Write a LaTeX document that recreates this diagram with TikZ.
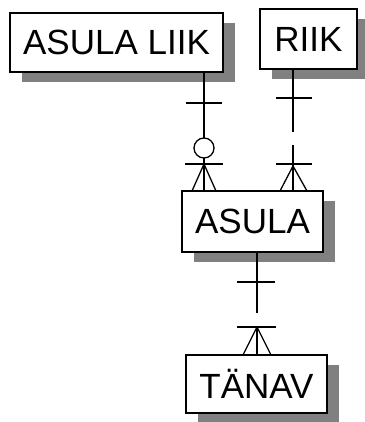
\documentclass[tikz,border=0pt]{standalone}
\usepackage{fontspec}
\setmainfont{Liberation Sans}
\usetikzlibrary{shadows,calc}
\tikzset{
  entity/.style={draw=black, line width=1.4pt, fill=white, inner sep=0pt,
    font=\fontsize{35}{38}\selectfont,
    drop shadow={shadow xshift=12pt, shadow yshift=-10pt, fill=black!50, opacity=1}},
  rel/.style={line width=1.3pt, black},
}
\begin{document}
\begin{tikzpicture}[x=1pt,y=-1pt]
\useasboundingbox (0,0) rectangle (364,422);
\node[entity, minimum width=213pt, minimum height=59pt] (liik) at (116.5,42.5) {ASULA LIIK};
\node[entity, minimum width=97pt, minimum height=60pt] (riik) at (308.5,39) {RIIK};
\node[entity, minimum width=141pt, minimum height=61pt] (asula) at (252.5,221.5) {ASULA};
\node[entity, minimum width=141pt, minimum height=58pt] (tanav) at (256.5,384) {TÄNAV};
% helper x positions
\coordinate (x1) at (204,0);
\coordinate (x2) at (293,0);
\coordinate (x3) at (257,0);
% ASULA LIIK -- ASULA (zero or many)
\coordinate (c1) at (204,148);
\draw[rel] (liik.south -| x1) -- ($(c1)+(0,-10)$);
\draw[rel] (c1) circle[radius=10pt];
\draw[rel] ($(c1)+(0,10)$) -- (asula.north -| x1);
\draw[rel] (186,103) -- (222,103);
\draw[rel] (185,164) -- (223,164);
\draw[rel] (204,164) -- (192,191);
\draw[rel] (204,164) -- (216,191);
% RIIK -- ASULA
\coordinate (g2a) at (293,132);
\coordinate (g2b) at (293,145);
\draw[rel] (riik.south -| x2) -- (g2a);
\draw[rel] (g2b) -- (asula.north -| x2);
\draw[rel] (276,98) -- (312,98);
\draw[rel] (276,164) -- (312,164);
\draw[rel] (293,166) -- (280,191);
\draw[rel] (293,166) -- (307,191);
% ASULA -- TANAV
\coordinate (g3a) at (257,313);
\coordinate (g3b) at (257,327);
\draw[rel] (asula.south -| x3) -- (g3a);
\draw[rel] (g3b) -- (tanav.north -| x3);
\draw[rel] (237,282) -- (275,282);
\draw[rel] (237,327) -- (276,327);
\draw[rel] (257,327) -- (243,355);
\draw[rel] (257,327) -- (271,355);
\end{tikzpicture}
\end{document}
